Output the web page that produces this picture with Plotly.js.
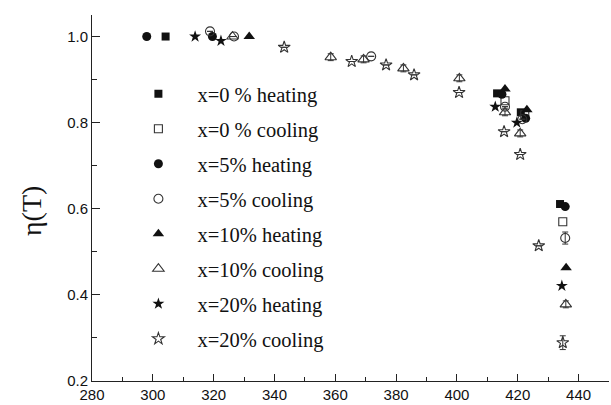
<!DOCTYPE html>
<html>
<head>
<meta charset="utf-8">
<script src="https://cdn.plot.ly/plotly-3.0.1.min.js"></script>
<style>html,body{margin:0;padding:0;background:#fff;}#chart{width:611px;height:405px;}</style>
</head>
<body>
<div id="chart"></div>
<script>
// Data
var sq0HeatX = [304.2, 413.2, 421.0, 433.9];
var sq0HeatY = [1.000, 0.868, 0.824, 0.611];
var sq0CoolX = [415.8, 422.3, 434.8];
var sq0CoolY = [0.851, 0.818, 0.570];
var ci5HeatX = [298.0, 319.6, 414.8, 422.6, 435.6];
var ci5HeatY = [1.000, 1.000, 0.866, 0.810, 0.605];
var ci5CoolX = [318.8, 326.7, 371.8, 415.8, 421.5, 435.6];
var ci5CoolY = [1.012, 1.000, 0.954, 0.837, 0.808, 0.532];
var ci5CoolErr = [0, 0, 0, 0, 0, 0.014];
var tr10HeatX = [331.7, 415.8, 423.0, 435.9];
var tr10HeatY = [1.000, 0.878, 0.830, 0.463];
var tr10CoolX = [326.2, 358.5, 369.3, 382.4, 400.8, 415.8, 420.8, 435.8];
var tr10CoolY = [1.000, 0.952, 0.947, 0.926, 0.903, 0.824, 0.775, 0.378];
var tr10CoolErr = [0, 0.008, 0.008, 0.008, 0.008, 0.008, 0.008, 0.008];
var st20HeatX = [313.9, 322.4, 412.6, 419.7, 434.5];
var st20HeatY = [1.000, 0.990, 0.837, 0.800, 0.421];
var st20CoolX = [343.2, 365.4, 376.7, 385.9, 400.7, 415.5, 420.8, 426.9, 434.8];
var st20CoolY = [0.975, 0.942, 0.934, 0.911, 0.870, 0.779, 0.726, 0.514, 0.289];
var st20CoolErr = [0, 0, 0, 0, 0, 0, 0, 0, 0.016];

var names = ['x=0 % heating', 'x=0 % cooling', 'x=5% heating', 'x=5% cooling',
             'x=10% heating', 'x=10% cooling', 'x=20% heating', 'x=20% cooling'];
var yTitle = 'η(T)';

var fillC = '#111111';
var lineC = '#333333';

function mk(i, x, y, sym, size, open, err) {
  var t = {
    type: 'scatter', mode: 'markers', x: x, y: y, name: names[i],
    legendgroup: 'g' + i,
    marker: open ? {symbol: sym, size: size, color: lineC, line: {color: lineC, width: 1.1}}
                 : {symbol: sym, size: size, color: fillC, line: {width: 0}},
    cliponaxis: false
  };
  if (err) {
    t.error_y = {type: 'data', array: err, visible: true, color: lineC, thickness: 1, width: 3};
  }
  return t;
}

var data = [
  mk(0, sq0HeatX, sq0HeatY, 'square', 8, false),
  mk(1, sq0CoolX, sq0CoolY, 'square-open', 8, true),
  mk(2, ci5HeatX, ci5HeatY, 'circle', 9, false),
  mk(3, ci5CoolX, ci5CoolY, 'circle-open', 9, true, ci5CoolErr),
  mk(4, tr10HeatX, tr10HeatY, 'triangle-up', 10, false),
  mk(5, tr10CoolX, tr10CoolY, 'triangle-up-open', 10, true, tr10CoolErr),
  mk(6, st20HeatX, st20HeatY, 'star', 9, false),
  mk(7, st20CoolX, st20CoolY, 'star-open', 9, true, st20CoolErr)
];

var axisCommon = {
  showgrid: false, zeroline: false, showline: true, linecolor: '#222', linewidth: 1,
  ticks: 'inside', ticklen: 7, tickwidth: 1, tickcolor: '#222',
  tickfont: {family: 'Liberation Sans, Arial, sans-serif', size: 15, color: '#111'},
  mirror: false
};

var layout = {
  width: 611, height: 405,
  margin: {l: 92, r: 2, t: 15, b: 24},
  paper_bgcolor: '#fff', plot_bgcolor: '#fff',
  showlegend: true,
  xaxis: Object.assign({}, axisCommon, {
    range: [280, 450], dtick: 20, tick0: 280,
    minor: {ticks: 'inside', ticklen: 4, tickwidth: 1, tickcolor: '#222', dtick: 10}
  }),
  yaxis: Object.assign({}, axisCommon, {
    range: [0.2, 1.05], dtick: 0.2, tick0: 0.2, tickformat: '.1f', ticklen: 8,
    minor: {ticks: 'inside', ticklen: 5, tickwidth: 1, tickcolor: '#222', dtick: 0.1}
  }),
  annotations: [{
    text: yTitle, xref: 'paper', yref: 'paper', x: -0.116, y: 0.4645,
    xanchor: 'center', yanchor: 'middle', textangle: -90, showarrow: false,
    font: {family: 'Liberation Serif, Times New Roman, serif', size: 28, color: '#111'}
  }],
  legend: {
    x: 0.053, y: 0.839, xanchor: 'left', yanchor: 'top',
    bgcolor: 'rgba(0,0,0,0)', borderwidth: 0,
    font: {family: 'Liberation Serif, Times New Roman, serif', size: 20.5, color: '#111'},
    tracegroupgap: 5.35, itemwidth: 68
  }
};

Plotly.newPlot('chart', data, layout, {displayModeBar: false, staticPlot: true});
</script>
</body>
</html>
